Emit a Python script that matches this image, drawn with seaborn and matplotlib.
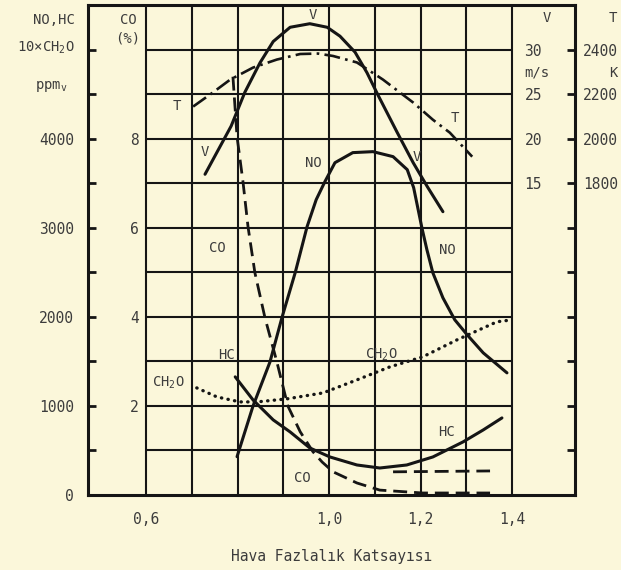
import numpy as np
import matplotlib
matplotlib.use("Agg")
import matplotlib.pyplot as plt
import seaborn as sns

# (x = hava fazlalik katsayisi)
v_lam = [0.729, 0.786, 0.816, 0.849, 0.878, 0.915, 0.958, 0.996, 1.024, 1.057, 1.083, 1.107, 1.149, 1.184, 1.215, 1.249]
v_ms = [16.0, 21.4, 25.2, 28.5, 30.9, 32.5, 32.9, 32.5, 31.5, 29.7, 27.4, 24.9, 20.7, 17.3, 14.6, 11.8]

t_lam = [0.703, 0.746, 0.784, 0.834, 0.886, 0.937, 0.976, 1.009, 1.061, 1.118, 1.184, 1.227, 1.264, 1.313]
t_k = [2144, 2207, 2265, 2319, 2355, 2380, 2382, 2371, 2342, 2265, 2162, 2085, 2027, 1919]

no_lam = [0.799, 0.834, 0.871, 0.897, 0.926, 0.952, 0.972, 0.991, 1.013, 1.052, 1.096, 1.140,
          1.171, 1.185, 1.203, 1.214, 1.227, 1.249, 1.275, 1.302, 1.337, 1.389]
no_ppm = [430, 1000, 1494, 1989, 2494, 3011, 3315, 3517, 3730, 3843, 3854, 3798,
          3652, 3450, 3000, 2753, 2494, 2213, 1966, 1798, 1596, 1371]

hc_lam = [0.795, 0.834, 0.878, 0.915, 0.958, 1.002, 1.061, 1.111, 1.170, 1.227, 1.293, 1.337, 1.378]
hc_ppm = [1326, 1067, 843, 708, 528, 427, 337, 303, 337, 427, 596, 730, 865]

# CH2O gercek ppm, grafikte 10 kati cizili
ch2o_lam = [0.711, 0.755, 0.805, 0.843, 0.908, 0.987, 1.061, 1.133, 1.205, 1.280, 1.367, 1.400]
ch2o_ppm = [120.2, 110.1, 104.5, 104.5, 107.9, 114.6, 129.2, 143.8, 155.1, 174.2, 194.4, 196.6]

co_lam = [0.790, 0.799, 0.812, 0.823, 0.838, 0.860, 0.886, 0.910, 0.937, 0.965, 0.985, 1.009, 1.061, 1.111, 1.205, 1.352]
co_pct = [9.39, 8.04, 7.03, 6.02, 4.99, 3.98, 2.99, 2.00, 1.42, 0.97, 0.74, 0.52, 0.27, 0.11, 0.045, 0.045]

co2_lam = [1.140, 1.352]
co2_pct = [0.52, 0.54]

x_ticks = [0.6, 1.0, 1.2, 1.4]
x_tick_labels = ["0,6", "1,0", "1,2", "1,4"]

paper = "#fbf7da"
ink = "#151515"
grey = "#3c3c3c"
mono = "DejaVu Sans Mono"

sns.set_style("white")
plt.rcParams["font.family"] = [mono]
plt.rcParams["mathtext.fontset"] = "custom"
plt.rcParams["mathtext.rm"] = mono
plt.rcParams["mathtext.it"] = mono

fig = plt.figure(figsize=(6.21, 5.70), dpi=100, facecolor=paper)
ax = fig.add_axes([88 / 621, 75 / 570, 487 / 621, 490 / 570])
ax.set_facecolor(paper)

ax.set_xlim(0.4732, 1.5377)
ax.set_ylim(0, 5500)

# izgara
grid_x = np.arange(0.6, 1.41, 0.1)
grid_y = np.arange(500, 5001, 500)
ax.vlines(grid_x, 0, 5500, color=ink, lw=1.5, zorder=1)
ax.hlines(grid_y, 0.6, 1.4, color=ink, lw=1.5, zorder=1)

for s in ax.spines.values():
    s.set_linewidth(2.2)
    s.set_color(ink)

ax.set_xticks(x_ticks, labels=x_tick_labels)
ax.tick_params(axis="x", length=0, pad=12, labelsize=10.5, labelcolor=grey)
ax.set_xlabel("Hava Fazlalık Katsayısı", fontsize=10.5, labelpad=16, color=grey)

left_ticks = np.arange(0, 5001, 500)
left_labels = [str(int(v)) if v % 1000 == 0 and v <= 4000 else "" for v in left_ticks]
ax.set_yticks(left_ticks, labels=left_labels)
ax.tick_params(axis="y", direction="in", length=6, width=2, pad=10, labelsize=10.5,
               color=ink, labelcolor=grey)

# NO, HC, CH2O (ppm)
sns.lineplot(x=no_lam, y=no_ppm, ax=ax, color=ink, lw=2.2, zorder=3)
sns.lineplot(x=hc_lam, y=hc_ppm, ax=ax, color=ink, lw=2.2, zorder=3)
sns.lineplot(x=ch2o_lam, y=[c * 10 for c in ch2o_ppm], ax=ax, color=ink, lw=2.4, zorder=3,
             linestyle=(0, (0.1, 1.9)), dash_capstyle="round")

# T ekseni (K)
ax2 = ax.twinx()
ax2.set_ylim(400, 2600)
t_ticks = np.arange(600, 2401, 200)
ax2.set_yticks(t_ticks, labels=[str(t) if t >= 1800 else "" for t in t_ticks])
ax2.tick_params(axis="y", direction="in", length=6, width=2, pad=6, labelsize=10.5,
                color=ink, labelcolor=grey)
sns.lineplot(x=t_lam, y=t_k, ax=ax2, color=ink, lw=1.9, linestyle=(0, (6, 2, 1, 2)))

# CO ekseni (%)
ax3 = ax.twinx()
ax3.set_ylim(0, 11)
ax3.yaxis.set_ticks_position("left")
ax3.yaxis.set_label_position("left")
ax3.spines["left"].set_position(("axes", (146 - 88) / 487))
ax3.set_yticks([2, 4, 6, 8])
ax3.tick_params(axis="y", length=0, pad=5, labelsize=10.5, labelcolor=grey)
sns.lineplot(x=co_lam, y=co_pct, ax=ax3, color=ink, lw=2.0, linestyle=(0, (5, 2.5)))
sns.lineplot(x=co2_lam, y=co2_pct, ax=ax3, color=ink, lw=2.0, linestyle=(0, (5, 2.5)))

# V ekseni (m/s)
ax4 = ax.twinx()
ax4.set_ylim(-20, 35)
ax4.spines["right"].set_position(("axes", (512 - 88) / 487))
ax4.set_yticks([15, 20, 25, 30])
ax4.tick_params(axis="y", length=0, pad=9, labelsize=10.5, labelcolor=grey)
sns.lineplot(x=v_lam, y=v_ms, ax=ax4, color=ink, lw=2.2)

for a in (ax2, ax3, ax4):
    for s in a.spines.values():
        s.set_visible(False)
    a.set_ylabel("")
    a.set_xlim(0.4732, 1.5377)

# egri etiketleri (ppm koordinatinda)
labels = [
    ("V", 0.965, 5393), ("V", 0.729, 3854), ("V", 1.192, 3798),
    ("T", 0.668, 4371), ("T", 1.275, 4236),
    ("NO", 0.965, 3730), ("NO", 1.258, 2753),
    ("CO", 0.757, 2775), ("CO", 0.941, 191),
    ("HC", 0.777, 1573), ("HC", 1.256, 708),
    ("CH$_2$O", 0.648, 1258), ("CH$_2$O", 1.114, 1573),
]
for txt, lx, ly in labels:
    ax.text(lx, ly, txt, ha="center", va="center", fontsize=10, color=grey, zorder=5)

# eksen basliklari
heads = [
    ("NO,HC", 75, 20, "right"), ("10×CH$_2$O", 75, 48, "right"), ("ppm$_\\mathrm{v}$", 68, 86, "right"),
    ("CO", 128, 20, "center"), ("(%)", 128, 38, "center"),
    ("V", 547, 18, "center"), ("m/s", 537, 73, "center"),
    ("T", 613, 18, "center"), ("K", 613, 73, "center"),
]
for txt, px, py, ha in heads:
    fig.text(px / 621, 1 - py / 570, txt, ha=ha, va="center", fontsize=10, color=grey)

fig.savefig("out.png", dpi=100, facecolor=paper)
